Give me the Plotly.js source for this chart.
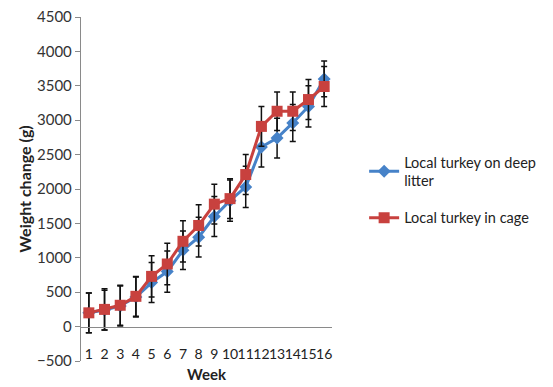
<!DOCTYPE html>
<html><head><meta charset="utf-8">
<script src="https://cdn.plot.ly/plotly-3.0.1.min.js"></script>
<style>html,body{margin:0;padding:0;background:#fff}#chart{width:553px;height:387px}</style>
</head><body><div id="chart"></div>
<script>
const weeks = [1,2,3,4,5,6,7,8,9,10,11,12,13,14,15,16];
const weekLabels = ["1","2","3","4","5","6","7","8","9","10","11","12","13","14","15","16"];
const litterMean = [200,240,300,430,640,800,1110,1300,1600,1830,2030,2610,2740,2960,3200,3600];
const litterErr  = [290,290,290,290,290,300,280,290,290,300,300,290,290,270,300,260];
const cageMean   = [200,250,310,440,730,910,1240,1470,1780,1860,2210,2910,3130,3130,3300,3490];
const cageErr    = [290,300,290,290,300,300,300,300,290,290,290,290,280,280,290,290];
const yTicks = [-500,0,500,1000,1500,2000,2500,3000,3500,4000,4500];
const seriesNames = ["Local turkey on deep<br>litter","Local turkey in cage"];

const FONT = "Lato, 'Open Sans', sans-serif";
const traces = [
  {x: weeks, y: litterMean, name: seriesNames[0], legendgroup:'a', type:'scatter', mode:'lines+markers',
   line:{color:'#4682C8', width:3}, marker:{symbol:'diamond', size:10, color:'#4682C8'},
   error_y:{type:'data', array: litterErr, visible:true, color:'#111', thickness:1.5, width:3}},
  {x: weeks, y: cageMean, name: seriesNames[1], legendgroup:'b', type:'scatter', mode:'lines+markers',
   line:{color:'#C8413E', width:3}, marker:{symbol:'square', size:11, color:'#C8413E'},
   error_y:{type:'data', array: cageErr, visible:true, color:'#111', thickness:1.5, width:3}}
];
const layout = {
  width:553, height:387,
  margin:{l:81, r:203, t:17, b:26},
  paper_bgcolor:'#fff', plot_bgcolor:'#fff',
  font:{family:FONT, size:14, color:'#333'},
  showlegend:true,
  legend:{x:1.128, y:0.625, xanchor:'left', yanchor:'top', font:{family:FONT, size:14.5, color:'#222'},
          traceorder:'grouped', tracegroupgap:15, bgcolor:'rgba(0,0,0,0)'},
  xaxis:{range:[0.5,16.5], tickvals:weeks, ticktext:weekLabels, anchor:'free', position:0.1,
         showline:true, linecolor:'#8a8a8a', linewidth:1.2, ticks:'', showgrid:false, zeroline:false,
         tickangle:0, ticklabelstandoff:14, tickfont:{family:FONT, size:14, color:'#222'},
         title:{text:'<b>Week</b>', font:{family:FONT, size:15, color:'#222'}, standoff:9}},
  yaxis:{range:[-500,4500], tickvals:yTicks, showline:true, linecolor:'#8a8a8a', linewidth:1.2,
         ticks:'outside', ticklen:5, tickcolor:'#8a8a8a', showgrid:false, zeroline:false,
         tickfont:{family:FONT, size:15, color:'#333'},
         title:{text:'<b>Weight change (g)</b>', font:{family:FONT, size:16, color:'#222'}, standoff:1}}
};
Plotly.newPlot('chart', traces, layout, {displayModeBar:false, staticPlot:true});
</script></body></html>
